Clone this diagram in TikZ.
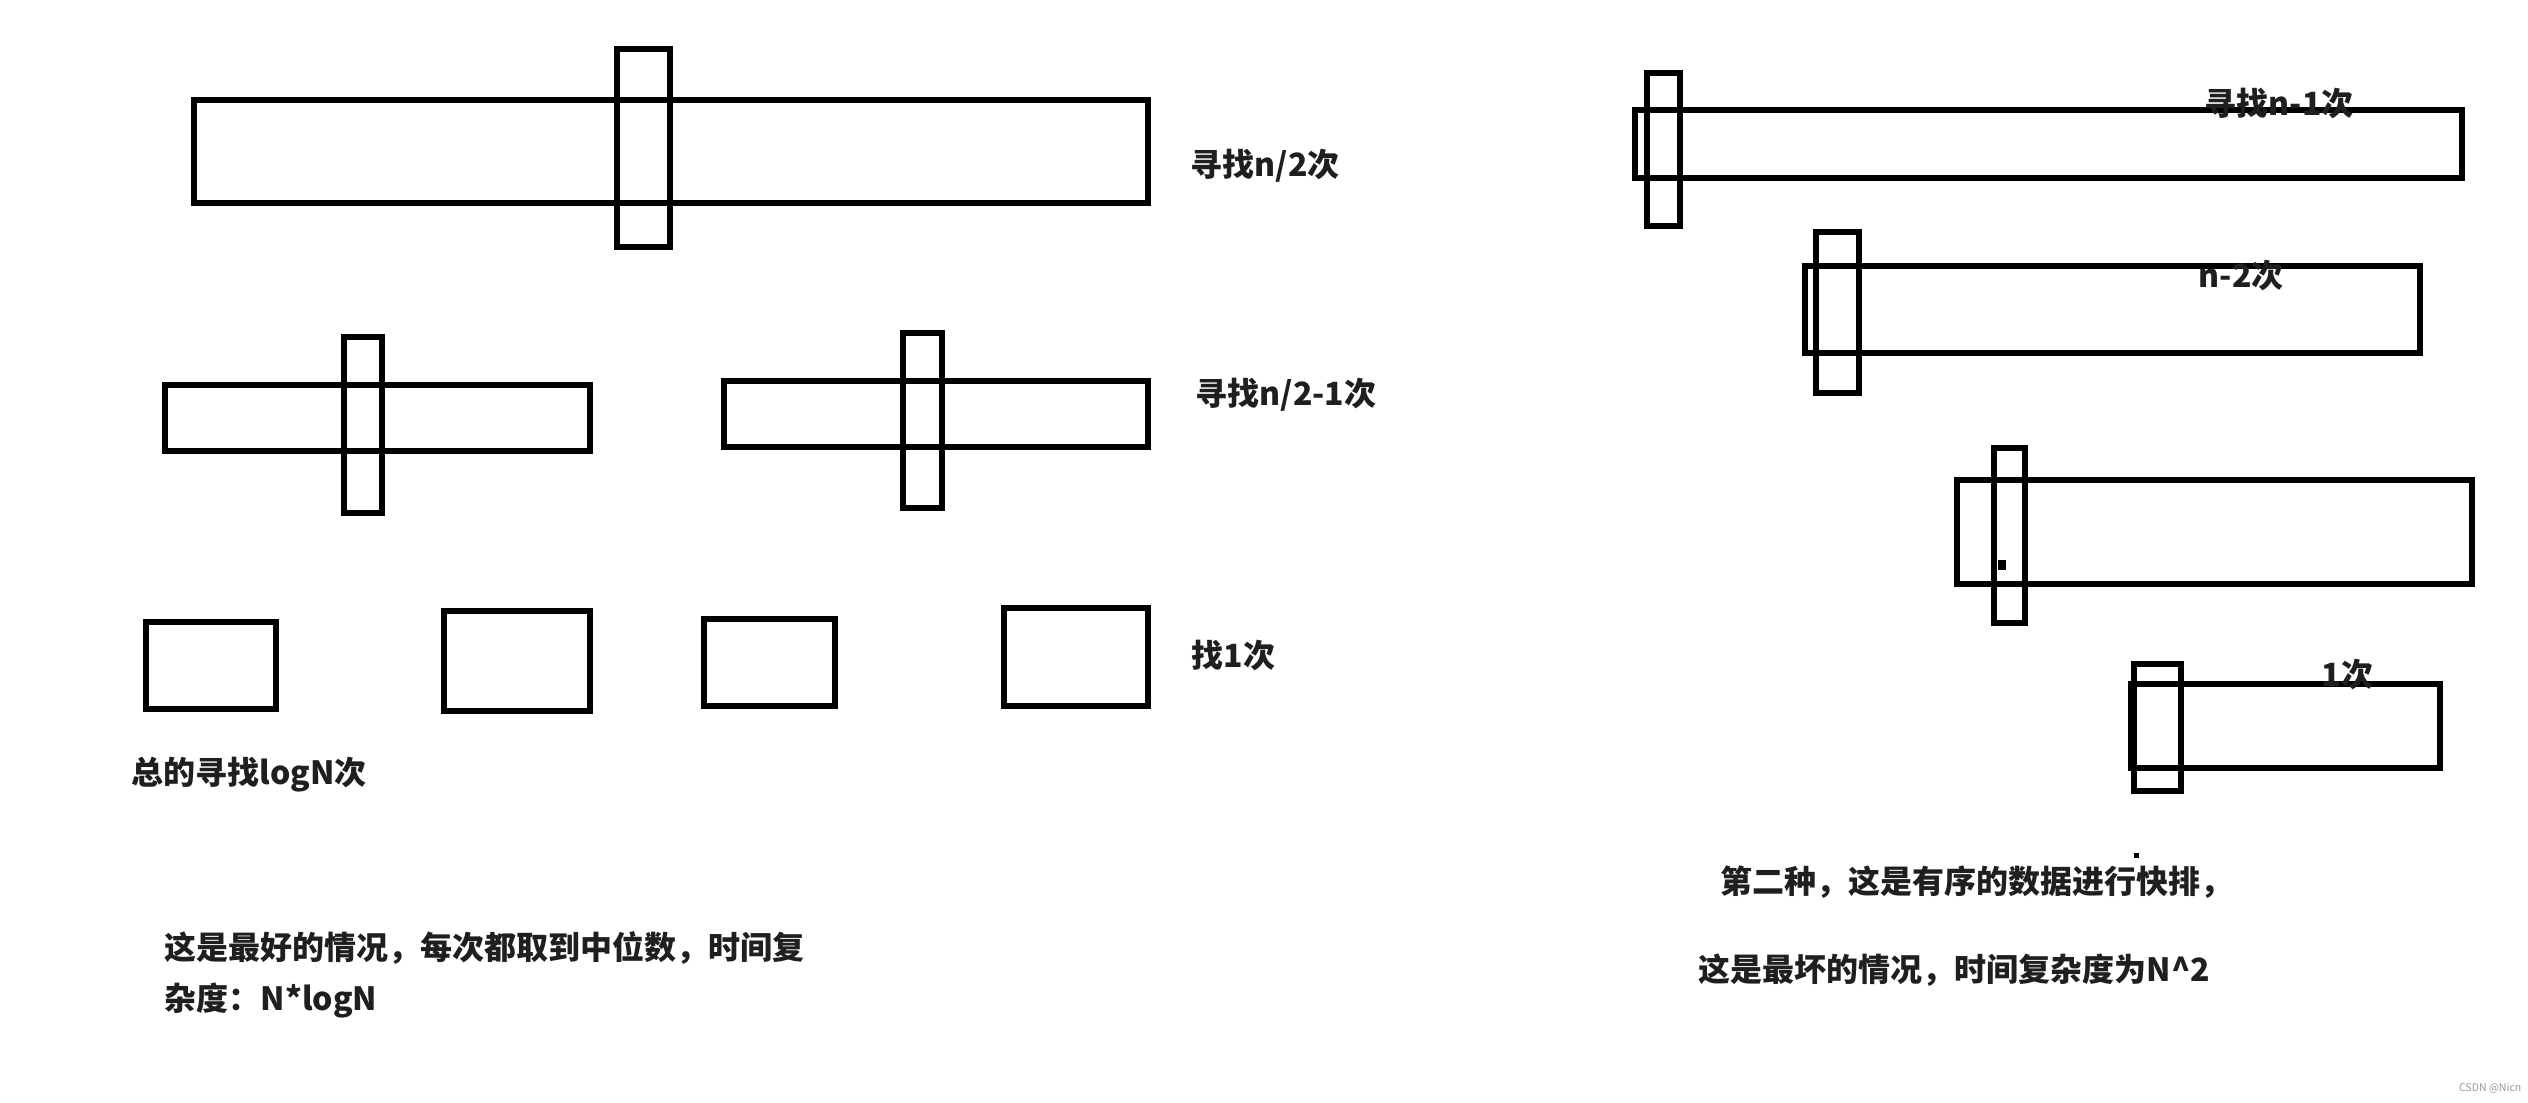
\documentclass[tikz,border=0pt]{standalone}
\usepackage{fontspec}
\newfontfamily\cjk{Noto Sans CJK SC}
\usepackage{tikz}
\usetikzlibrary{positioning}
\tikzset{
  blk/.style={line width=1.7pt},
  lbl/.style={font=\cjk\bfseries\fontsize{9.1}{11}\selectfont, text=black!88, anchor=west, inner sep=0pt}
}
\begin{document}
\begin{tikzpicture}[x=0.01cm, y=-0.01cm]
\useasboundingbox[fill=white] (0,0) rectangle (2528,1102);
% caso migliore: divisione a meta
\draw[blk] (194,100) rectangle (1148,203);
\draw[blk] (617,49) rectangle (670,247);
\node[lbl] (half) at (1190,166) {寻找n/2次};
\draw[blk] (165,385) rectangle (590,451);
\draw[blk] (344,337) rectangle (382,513);
\draw[blk] (724,381) rectangle (1148,447);
\draw[blk] (903,333) rectangle (942,508);
\node[lbl] (halfone) at (1195,395) {寻找n/2-1次};
\draw[blk] (146,622) rectangle (276,709);
\draw[blk] (444,611) rectangle (590,711);
\draw[blk] (704,619) rectangle (835,706);
\draw[blk] (1004,608) rectangle (1148,706);
\node[lbl] (one) at (1191,655) {找1次};
\node[lbl] (total) at (131,775) {总的寻找logN次};
\node[lbl] (best) at (164,948) {这是最好的情况，每次都取到中位数，时间复};
\node[lbl] (bestb) at (164,1000) {杂度：N*logN};
% caso peggiore: dati ordinati
\draw[blk] (1635,110) rectangle (2462,178);
\draw[blk] (1647,73) rectangle (1680,226);
\node[lbl] (nm1) at (2204,104) {寻找n-1次};
\draw[blk] (1805,266) rectangle (2420,353);
\draw[blk] (1816,232) rectangle (1859,393);
\node[lbl] (nm2) at (2198,276) {n-2次};
\draw[blk] (1957,480) rectangle (2472,584);
\draw[blk] (1994,448) rectangle (2025,623);
\fill (1998,560) rectangle (2006,570);
\draw[blk] (2131,684) rectangle (2440,768);
\draw[blk] (2134,664) rectangle (2181,791);
\node[lbl] (n1) at (2321,674) {1次};
\fill (2134,853) rectangle (2139,858);
\node[lbl] (worst) at (1720,882) {第二种，这是有序的数据进行快排，};
\node[lbl] (worstb) at (1698,970) {这是最坏的情况，时间复杂度为N\textasciicircum2};
\node[anchor=east, inner sep=0pt, text=black!40, font=\cjk\fontsize{3}{4}\selectfont] (mark) at (2522,1088) {CSDN @Nicn};
\end{tikzpicture}
\end{document}
